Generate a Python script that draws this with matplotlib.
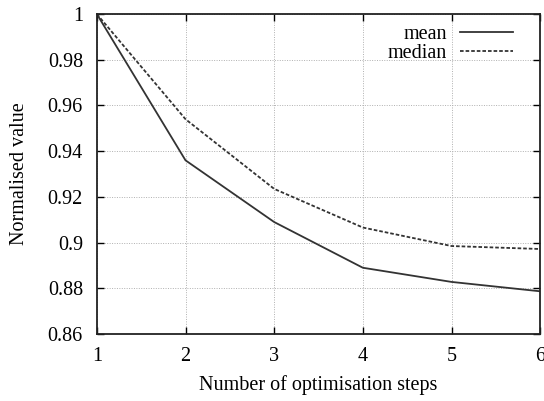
import matplotlib
matplotlib.use("Agg")
import matplotlib.pyplot as plt

steps = [1, 2, 3, 4, 5, 6]
mean_vals = [1.0, 0.936, 0.909, 0.889, 0.8828, 0.8787]
median_vals = [1.0, 0.954, 0.9235, 0.9066, 0.8985, 0.8972]
yticks = [0.86, 0.88, 0.9, 0.92, 0.94, 0.96, 0.98, 1.0]
ytick_labels = ["0.86", "0.88", "0.9", "0.92", "0.94", "0.96", "0.98", "1"]

plt.rcParams["font.family"] = ["Liberation Serif", "DejaVu Serif"]
plt.rcParams["font.size"] = 14.5

fig = plt.figure(figsize=(5.44, 4.01), dpi=100)
ax = fig.add_axes([0.178, 0.167, 0.815, 0.798])

ax.plot(steps, mean_vals, color="#333333", lw=1.3, label="mean")
ax.plot(steps, median_vals, color="#333333", lw=1.3, ls=(0, (2.0, 1.1)), label="median")

ax.set_xlim(1, 6)
ax.set_ylim(0.86, 1.0)
ax.set_xticks(steps)
ax.set_yticks(yticks)
ax.set_yticklabels(ytick_labels)
ax.tick_params(direction="in", top=True, right=True, length=5, width=1.0)
ax.tick_params(axis="x", pad=9)
ax.tick_params(axis="y", pad=10)
ax.grid(True, color="#b0b0b0", ls=(0, (1, 1.5)), lw=0.7)
for s in ax.spines.values():
    s.set_linewidth(1.3)
    s.set_color("#222222")

ax.set_xlabel("Number of optimisation steps", labelpad=7)
ax.set_ylabel("Normalised value", labelpad=13.5)

ax.legend(loc="upper right", bbox_to_anchor=(0.965, 1.005), frameon=False,
          markerfirst=False, handlelength=2.6, borderaxespad=0.2,
          labelspacing=0.0, handletextpad=0.65)

fig.savefig("out.png", dpi=100)
